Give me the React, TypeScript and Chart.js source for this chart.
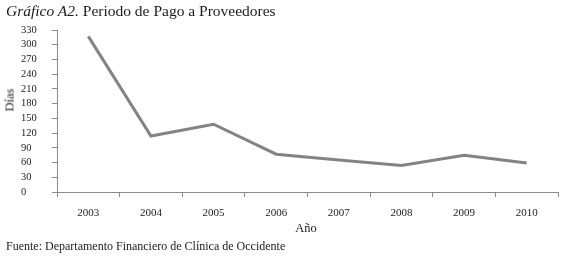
import React, { useEffect, useRef } from "react";
import { Chart, registerables } from "chart.js";

Chart.register(...registerables);

const years = ["2003", "2004", "2005", "2006", "2007", "2008", "2009", "2010"];
const dias = [317, 114, 138, 77, 65, 54, 75, 59];
const yMin = 0;
const yMax = 330;
const yStep = 30;

const serif = "'Liberation Serif', 'DejaVu Serif', serif";

export default function App() {
  const ref = useRef<HTMLCanvasElement | null>(null);

  useEffect(() => {
    if (!ref.current) return;
    const chart = new Chart(ref.current, {
      type: "line",
      data: {
        labels: years,
        datasets: [
          {
            data: dias,
            borderColor: "#838383",
            borderWidth: 3,
            pointRadius: 0,
            tension: 0,
            fill: false,
          },
        ],
      },
      options: {
        responsive: false,
        animation: false,
        layout: { padding: { left: 21, top: 30, right: 12, bottom: 0 } },
        plugins: { legend: { display: false }, tooltip: { enabled: false } },
        scales: {
          x: {
            type: "category",
            offset: true,
            grid: {
              offset: true,
              drawOnChartArea: false,
              drawTicks: true,
              tickLength: 5,
              color: "#8a8a8a",
            },
            border: { color: "#8a8a8a", width: 1 },
            ticks: {
              color: "#222",
              font: { family: serif, size: 11 },
              padding: 10,
              maxRotation: 0,
              autoSkip: false,
            },
            afterFit: (s: any) => {
              s.height = 64;
            },
          },
          y: {
            min: yMin,
            max: yMax,
            grid: {
              drawOnChartArea: false,
              drawTicks: true,
              tickLength: 5,
              color: "#8a8a8a",
            },
            border: { color: "#8a8a8a", width: 1 },
            ticks: {
              stepSize: yStep,
              autoSkip: false,
              color: "#222",
              font: { family: serif, size: 10.5 },
              crossAlign: "far",
              padding: 4,
            },
            afterFit: (s: any) => {
              s.width = 36;
            },
          },
        },
      },
    });
    return () => chart.destroy();
  }, []);

  return (
    <div style={{ position: "absolute", left: 0, top: 0, width: 570, height: 256, background: "#fff" }}>
      <canvas ref={ref} width={570} height={256} style={{ position: "absolute", left: 0, top: 0 }} />
      <div
        style={{
          position: "absolute",
          left: 6,
          top: 2,
          fontFamily: serif,
          fontSize: 15.5,
          color: "#1a1a1a",
          whiteSpace: "nowrap",
          lineHeight: "18px",
        }}
      >
        <span style={{ fontStyle: "italic" }}>Gráfico A2.</span> Periodo de Pago a Proveedores
      </div>
      <div
        style={{
          position: "absolute",
          left: 10,
          top: 100,
          transform: "translate(-50%, -50%) rotate(-90deg)",
          fontFamily: serif,
          fontSize: 12.5,
          color: "#1a1a1a",
          whiteSpace: "nowrap",
        }}
      >
        Días
      </div>
      <div
        style={{
          position: "absolute",
          left: 306,
          top: 228,
          transform: "translate(-50%, -50%)",
          fontFamily: serif,
          fontSize: 12.5,
          color: "#1a1a1a",
          whiteSpace: "nowrap",
        }}
      >
        Año
      </div>
      <div
        style={{
          position: "absolute",
          left: 6,
          top: 239,
          fontFamily: serif,
          fontSize: 12,
          color: "#1a1a1a",
          whiteSpace: "nowrap",
          lineHeight: "14px",
        }}
      >
        Fuente: Departamento Financiero de Clínica de Occidente
      </div>
    </div>
  );
}
